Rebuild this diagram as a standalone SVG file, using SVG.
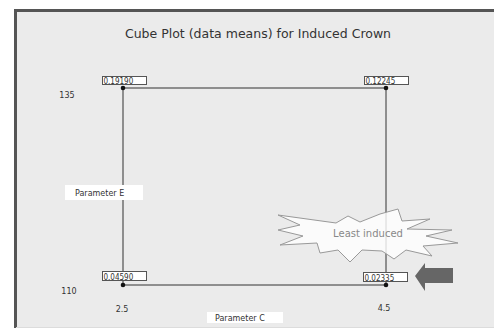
<svg xmlns="http://www.w3.org/2000/svg" width="494" height="333" viewBox="0 0 494 333">
<style>
.t{font-family:"DejaVu Sans","Liberation Sans",sans-serif;fill:#333}
.val{font-family:"DejaVu Sans Condensed","DejaVu Sans",sans-serif;font-size:8px;fill:#333}
.vbox{fill:#fff;stroke:#555;stroke-width:1}
.edge{stroke:#707070;stroke-width:1.5;fill:none}
.dot{fill:#111}
</style>
<rect x="0" y="0" width="494" height="333" fill="#fff"/>
<rect x="16" y="11" width="478" height="316" fill="#ebebeb"/>
<path d="M15.5 328 V10.5 H494" fill="none" stroke="#555" stroke-width="3"/>
<line x1="16" y1="327.5" x2="494" y2="327.5" stroke="#dcdcdc" stroke-width="1"/>
<text class="t" x="258" y="38" font-size="12.5" text-anchor="middle">Cube Plot (data means) for Induced Crown</text>
<g id="connectors">
<rect class="edge" x="123" y="88" width="263" height="197"/>
</g>
<g id="n1"><circle class="dot" cx="123" cy="88" r="2.3"/><rect class="vbox" x="102.5" y="76.5" width="44" height="8"/><text class="val" x="103.5" y="83.5">0.19190</text></g>
<g id="n2"><circle class="dot" cx="386" cy="88" r="2.3"/><rect class="vbox" x="364.5" y="76.5" width="44" height="8"/><text class="val" x="365.5" y="83.5">0.12245</text></g>
<g id="n3"><circle class="dot" cx="123" cy="285" r="2.3"/><rect class="vbox" x="102.5" y="271.5" width="44" height="9"/><text class="val" x="103.5" y="279.5">0.04590</text></g>
<g id="n4"><circle class="dot" cx="386" cy="285" r="2.3"/><rect class="vbox" x="363.5" y="272.5" width="44" height="9"/><text class="val" x="364.5" y="280.5">0.02335</text></g>
<text class="t" x="67" y="98" font-size="8" text-anchor="middle">135</text>
<text class="t" x="69" y="294" font-size="8" text-anchor="middle">110</text>
<text class="t" x="122" y="312" font-size="8" text-anchor="middle">2.5</text>
<text class="t" x="384" y="311" font-size="8" text-anchor="middle">4.5</text>
<g id="axisE"><rect x="65" y="185" width="78" height="15" fill="#fff"/><text class="t" x="75" y="195.5" font-size="8">Parameter E</text></g>
<g id="axisC"><rect x="207" y="312" width="76" height="11" fill="#fff"/><text class="t" x="215" y="320.5" font-size="8">Parameter C</text></g>
<g id="burst">
<polygon points="278,215 336,223 348,216 360,222 380,214 398,209 402,221 430,219 407,229 452,230 426,236 458,243 423,246 432,256 406,250 394,259 382,251 362,250 350,262 338,250 320,253 317,243 280,245 303,236 278,230 300,225" fill="#fff" fill-opacity="0.8" stroke="#999" stroke-width="1"/>
<text class="t" x="368" y="237" font-size="10" text-anchor="middle" style="fill:#888">Least induced</text>
</g>
<g id="arrow"><polygon points="415,276 425,263 425,268 453,268 453,283 425,283 425,291" fill="#666"/></g>
</svg>
